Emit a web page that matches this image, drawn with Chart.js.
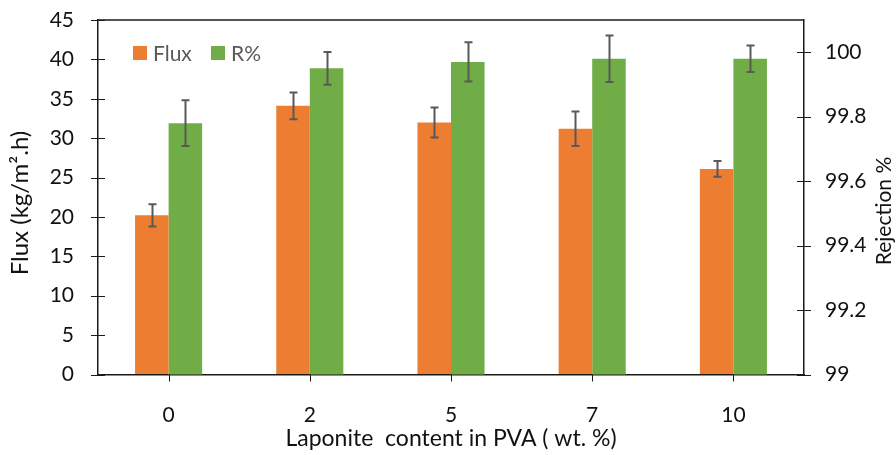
<!DOCTYPE html>
<html>
<head>
<meta charset="utf-8">
<script src="https://cdn.jsdelivr.net/npm/chart.js@4.4.1/dist/chart.umd.min.js"></script>
<style>
html,body{margin:0;padding:0;background:#fff;}
#wrap{width:896px;height:455px;position:relative;}
</style>
</head>
<body>
<div id="wrap"><canvas id="c" width="896" height="455"></canvas></div>
<script>
const categories = ['0', '2', '5', '7', '10'];
const fluxValues = [20.2, 34.1, 32.0, 31.2, 26.1];
const fluxErrors = [1.4, 1.7, 1.9, 2.2, 1.0];
const rejectionValues = [99.78, 99.95, 99.97, 99.98, 99.98];
const rejectionErrors = [0.071, 0.051, 0.061, 0.072, 0.041];
const fluxTicks = [0, 5, 10, 15, 20, 25, 30, 35, 40, 45];
const rejectionTicks = [99, 99.2, 99.4, 99.6, 99.8, 100];
const seriesNames = ['Flux', 'R%'];
const xTitle = 'Laponite  content in PVA ( wt. %)';
const yLeftTitle = 'Flux (kg/m\u00B2.h)';
const yRightTitle = 'Rejection %';

const FONT = 'Lato, "Open Sans", sans-serif';
const FS = 21;
const ORANGE = '#ED7D31';
const GREEN = '#70AD47';
const AXIS = '#1a1a1a';
const TXT = '#111111';
const ERR = '#595959';

const extras = {
  id: 'extras',
  afterDatasetsDraw(chart) {
    const ctx = chart.ctx;
    ctx.save();
    ctx.strokeStyle = ERR;
    ctx.lineWidth = 2;
    const errs = [fluxErrors, rejectionErrors];
    chart.data.datasets.forEach((ds, di) => {
      const meta = chart.getDatasetMeta(di);
      const yScale = chart.scales[ds.yAxisID];
      meta.data.forEach((bar, i) => {
        const v = ds.data[i], e = errs[di][i];
        const x = Math.round(bar.x) + 0.5;
        const yt = yScale.getPixelForValue(v + e);
        const yb = yScale.getPixelForValue(v - e);
        ctx.beginPath();
        ctx.moveTo(x, yt); ctx.lineTo(x, yb);
        ctx.moveTo(x - 4, yt); ctx.lineTo(x + 4, yt);
        ctx.moveTo(x - 4, yb); ctx.lineTo(x + 4, yb);
        ctx.stroke();
      });
    });
    ctx.restore();
  },
  afterDraw(chart) {
    const ctx = chart.ctx;
    const a = chart.chartArea;
    const yl = chart.scales.y, yr = chart.scales.y1, x = chart.scales.x;
    ctx.save();
    ctx.strokeStyle = AXIS;
    ctx.lineWidth = 1.5;
    ctx.beginPath();
    ctx.moveTo(a.left, a.top); ctx.lineTo(a.right, a.top);
    ctx.stroke();
    ctx.lineWidth = 1;
    yl.ticks.forEach(t => {
      const p = Math.round(yl.getPixelForValue(t.value)) + 0.5;
      ctx.beginPath(); ctx.moveTo(a.left - 7, p); ctx.lineTo(a.left + 7, p); ctx.stroke();
    });
    yr.ticks.forEach(t => {
      const p = Math.round(yr.getPixelForValue(t.value)) + 0.5;
      ctx.beginPath(); ctx.moveTo(a.right - 7, p); ctx.lineTo(a.right + 7, p); ctx.stroke();
    });
    categories.forEach((c, i) => {
      const p = Math.round(x.getPixelForTick(i)) + 0.5;
      ctx.beginPath(); ctx.moveTo(p, a.bottom); ctx.lineTo(p, a.bottom + 7); ctx.stroke();
    });
    ctx.font = FS + 'px ' + FONT;
    ctx.textBaseline = 'middle';
    ctx.textAlign = 'left';
    const ly = 53;
    const lxs = [133, 211];
    [ORANGE, GREEN].forEach((col, i) => {
      ctx.fillStyle = col;
      ctx.fillRect(lxs[i], ly - 7, 14, 14);
      ctx.fillStyle = '#595959';
      ctx.fillText(seriesNames[i], lxs[i] + 20, ly + 1);
    });
    ctx.fillStyle = TXT;
    ctx.textAlign = 'center';
    // right title, bottom to top
    ctx.save();
    ctx.translate(884, 211);
    ctx.rotate(-Math.PI / 2);
    ctx.fillText(yRightTitle, 0, 0);
    ctx.restore();
    // left title, bottom to top
    ctx.save();
    ctx.font = '24px ' + FONT;
    ctx.translate(20, 203);
    ctx.rotate(-Math.PI / 2);
    ctx.fillText(yLeftTitle, 0, 0);
    ctx.restore();
    ctx.restore();
  }
};

const hiddenTicks = len => ({ display: true, drawOnChartArea: false, drawTicks: true, tickLength: len, tickColor: 'rgba(0,0,0,0)' });

new Chart(document.getElementById('c'), {
  type: 'bar',
  data: {
    labels: categories,
    datasets: [
      { label: seriesNames[0], data: fluxValues, backgroundColor: ORANGE, yAxisID: 'y',
        categoryPercentage: 0.475, barPercentage: 1.0 },
      { label: seriesNames[1], data: rejectionValues, backgroundColor: GREEN, yAxisID: 'y1',
        categoryPercentage: 0.475, barPercentage: 1.0 }
    ]
  },
  options: {
    responsive: false,
    animation: false,
    devicePixelRatio: 1,
    layout: { padding: { top: 20, left: 0, right: 0, bottom: 0 } },
    plugins: { legend: { display: false }, tooltip: { enabled: false } },
    scales: {
      x: {
        grid: hiddenTicks(26),
        border: { display: true, color: AXIS, width: 1.5 },
        ticks: { color: TXT, font: { family: FONT, size: FS }, padding: 2, maxRotation: 0 },
        title: { display: true, text: xTitle, color: TXT, font: { family: FONT, size: 23 }, padding: { top: 0, bottom: 3 } },
        afterFit(s) { s.height = 455 - 374.5; }
      },
      y: {
        position: 'left', min: 0, max: 45,
        grid: hiddenTicks(22),
        border: { display: true, color: AXIS, width: 1.5 },
        ticks: { color: TXT, font: { family: FONT, size: FS }, padding: 2 },
        afterBuildTicks(s) { s.ticks = fluxTicks.map(v => ({ value: v })); },
        afterFit(s) { s.width = 98; }
      },
      y1: {
        position: 'right', min: 99, max: 100.1,
        grid: hiddenTicks(19),
        border: { display: true, color: AXIS, width: 1.5 },
        ticks: { color: TXT, font: { family: FONT, size: FS }, padding: 2,
          callback: v => String(Math.round(v * 10) / 10) },
        afterBuildTicks(s) { s.ticks = rejectionTicks.map(v => ({ value: v })); },
        afterFit(s) { s.width = 896 - 804; }
      }
    }
  },
  plugins: [extras]
});
</script>
</body>
</html>
